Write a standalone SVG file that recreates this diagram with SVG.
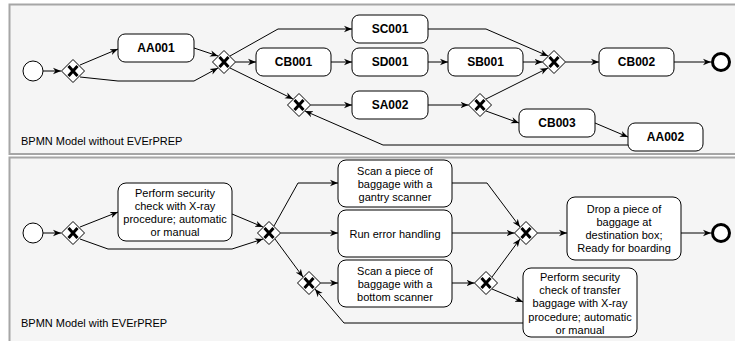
<svg xmlns="http://www.w3.org/2000/svg" width="735" height="341" viewBox="0 0 735 341">
  <style>
    .pool { fill: #f5f5f5; stroke: #a6a6a6; stroke-width: 2; }
    .pool-label { font-family: "Liberation Sans", Arial, sans-serif; font-size: 11px; fill: #000; }
    .task { fill: #fff; stroke: #000; stroke-width: 1; }
    .id { font-family: "Liberation Sans", Arial, sans-serif; font-size: 12px; font-weight: bold; fill: #000; text-anchor: middle; }
    .txt { font-family: "Liberation Sans", Arial, sans-serif; font-size: 11px; fill: #000; text-anchor: middle; }
    .start { fill: #fff; stroke: #000; stroke-width: 1; }
    .end { fill: #fff; stroke: #000; stroke-width: 3; }
    .flow { fill: none; stroke: #000; stroke-width: 1; marker-end: url(#arrow); }
  </style>
  <defs>
    <marker id="arrow" viewBox="0 0 10 10" refX="10" refY="5" markerWidth="8" markerHeight="8" markerUnits="userSpaceOnUse" orient="auto">
      <path d="M0,1 L10,5 L0,9 L3,5 z" fill="#000"/>
    </marker>
    <g id="xor">
      <polygon points="0,-11.5 11.5,0 0,11.5 -11.5,0" fill="#fff" stroke="#000" stroke-width="1"/>
      <path d="M-4.5,-5 L4.5,5 M4.5,-5 L-4.5,5" stroke="#000" stroke-width="3" fill="none"/>
    </g>
  </defs>

  <!-- pools -->
  <g id="pool-without">
    <rect class="pool" x="9.5" y="4.5" width="740" height="149.5"/>
    <text class="pool-label" x="21" y="145">BPMN Model without EVErPREP</text>
  </g>
  <g id="pool-with">
    <rect class="pool" x="9.5" y="157.5" width="740" height="200"/>
    <text class="pool-label" x="21" y="327">BPMN Model with EVErPREP</text>
  </g>

  <!-- connectors -->
  <g id="connectors">
    <!-- model without EVErPREP -->
    <path class="flow" d="M43,71 L61,71"/>
    <path class="flow" d="M80,65 L118,49"/>
    <path class="flow" d="M80,77 L118,81 L194,81 L218,68"/>
    <path class="flow" d="M194,48 L218,56"/>
    <path class="flow" d="M235.5,62 L256,62"/>
    <path class="flow" d="M230,56 L278,29 L352,29"/>
    <path class="flow" d="M230,68 L293,99"/>
    <path class="flow" d="M331,62 L352,62"/>
    <path class="flow" d="M428,62 L448,62"/>
    <path class="flow" d="M523,62 L542.5,62"/>
    <path class="flow" d="M428,29 L486,29 L548,56"/>
    <path class="flow" d="M310.5,105 L352,105"/>
    <path class="flow" d="M428,105 L468.5,105"/>
    <path class="flow" d="M486,99 L548,68"/>
    <path class="flow" d="M486,111 L519,123"/>
    <path class="flow" d="M595,123 L628,137"/>
    <path class="flow" d="M628,145 L383,145 L305,111"/>
    <path class="flow" d="M565.5,62 L599,62"/>
    <path class="flow" d="M674,62 L711,62"/>
    <!-- model with EVErPREP -->
    <path class="flow" d="M43,233 L61,233"/>
    <path class="flow" d="M80,227 L118,212"/>
    <path class="flow" d="M80,239 L108,249 L232,249 L263,239"/>
    <path class="flow" d="M232,214 L263,227"/>
    <path class="flow" d="M274,226 L298,183 L338,183"/>
    <path class="flow" d="M280.5,233 L338,233"/>
    <path class="flow" d="M275,239 L303,277"/>
    <path class="flow" d="M320.5,283 L338,283"/>
    <path class="flow" d="M452,283 L474.5,283"/>
    <path class="flow" d="M523,323 L344,323 L315,289"/>
    <path class="flow" d="M452,183 L487,183 L520,227"/>
    <path class="flow" d="M452,233 L514.5,233"/>
    <path class="flow" d="M492,277 L520,239"/>
    <path class="flow" d="M492,289 L523,302"/>
    <path class="flow" d="M537.5,233 L567,233"/>
    <path class="flow" d="M681,233 L711,233"/>
  </g>

  <!-- model without EVErPREP: nodes -->
  <g id="start1"><circle class="start" cx="33" cy="71" r="10"/></g>
  <g id="gw1"><use href="#xor" x="73" y="71"/></g>
  <g id="AA001"><rect class="task" x="118" y="34" width="76" height="28" rx="7"/><text class="id" x="156" y="52.3">AA001</text></g>
  <g id="gw2"><use href="#xor" x="224" y="62"/></g>
  <g id="SC001"><rect class="task" x="352" y="15" width="76" height="28" rx="7"/><text class="id" x="390" y="33.3">SC001</text></g>
  <g id="CB001"><rect class="task" x="256" y="48" width="75" height="28" rx="7"/><text class="id" x="293.5" y="66.3">CB001</text></g>
  <g id="SD001"><rect class="task" x="352" y="48" width="76" height="28" rx="7"/><text class="id" x="390" y="66.3">SD001</text></g>
  <g id="SB001"><rect class="task" x="448" y="48" width="75" height="28" rx="7"/><text class="id" x="485.5" y="66.3">SB001</text></g>
  <g id="gw3"><use href="#xor" x="299" y="105"/></g>
  <g id="SA002"><rect class="task" x="352" y="91" width="76" height="28" rx="7"/><text class="id" x="390" y="109.3">SA002</text></g>
  <g id="gw4"><use href="#xor" x="480" y="105"/></g>
  <g id="gw5"><use href="#xor" x="554" y="62"/></g>
  <g id="CB002"><rect class="task" x="599" y="48" width="75" height="28" rx="7"/><text class="id" x="636.5" y="66.3">CB002</text></g>
  <g id="end1"><circle class="end" cx="721" cy="62" r="8.5"/></g>
  <g id="CB003"><rect class="task" x="519" y="109" width="76" height="28" rx="7"/><text class="id" x="557" y="127.3">CB003</text></g>
  <g id="AA002"><rect class="task" x="628" y="123" width="75" height="28" rx="7"/><text class="id" x="665.5" y="141.3">AA002</text></g>

  <!-- model with EVErPREP: nodes -->
  <g id="start2"><circle class="start" cx="33" cy="233" r="10"/></g>
  <g id="gw6"><use href="#xor" x="73" y="233"/></g>
  <g id="xray-check">
    <rect class="task" x="118" y="183" width="114" height="58" rx="8"/>
    <text class="txt" y="196.7"><tspan x="175">Perform security</tspan><tspan x="175" dy="13.2">check with X-ray</tspan><tspan x="175" dy="13.2">procedure; automatic</tspan><tspan x="175" dy="13.2">or manual</tspan></text>
  </g>
  <g id="gw7"><use href="#xor" x="269" y="233"/></g>
  <g id="gantry-scan">
    <rect class="task" x="338" y="160" width="114" height="47" rx="8"/>
    <text class="txt" y="174.5"><tspan x="395">Scan a piece of</tspan><tspan x="395" dy="13.2">baggage with a</tspan><tspan x="395" dy="13.2">gantry scanner</tspan></text>
  </g>
  <g id="error-handling">
    <rect class="task" x="338" y="210" width="114" height="47" rx="8"/>
    <text class="txt" x="395" y="237.5">Run error handling</text>
  </g>
  <g id="gw8"><use href="#xor" x="309" y="283"/></g>
  <g id="bottom-scan">
    <rect class="task" x="338" y="260" width="114" height="47" rx="8"/>
    <text class="txt" y="274.5"><tspan x="395">Scan a piece of</tspan><tspan x="395" dy="13.2">baggage with a</tspan><tspan x="395" dy="13.2">bottom scanner</tspan></text>
  </g>
  <g id="gw9"><use href="#xor" x="486" y="283"/></g>
  <g id="gw10"><use href="#xor" x="526" y="233"/></g>
  <g id="drop-baggage">
    <rect class="task" x="567" y="197" width="114" height="63" rx="8"/>
    <text class="txt" y="212.5"><tspan x="624">Drop a piece of</tspan><tspan x="624" dy="13.2">baggage at</tspan><tspan x="624" dy="13.2">destination box;</tspan><tspan x="624" dy="13.2">Ready for boarding</tspan></text>
  </g>
  <g id="end2"><circle class="end" cx="721" cy="233" r="8.5"/></g>
  <g id="transfer-check">
    <rect class="task" x="523" y="268" width="114" height="69" rx="8"/>
    <text class="txt" y="281"><tspan x="580">Perform security</tspan><tspan x="580" dy="13.2">check of transfer</tspan><tspan x="580" dy="13.2">baggage with X-ray</tspan><tspan x="580" dy="13.2">procedure; automatic</tspan><tspan x="580" dy="13.2">or manual</tspan></text>
  </g>
</svg>
